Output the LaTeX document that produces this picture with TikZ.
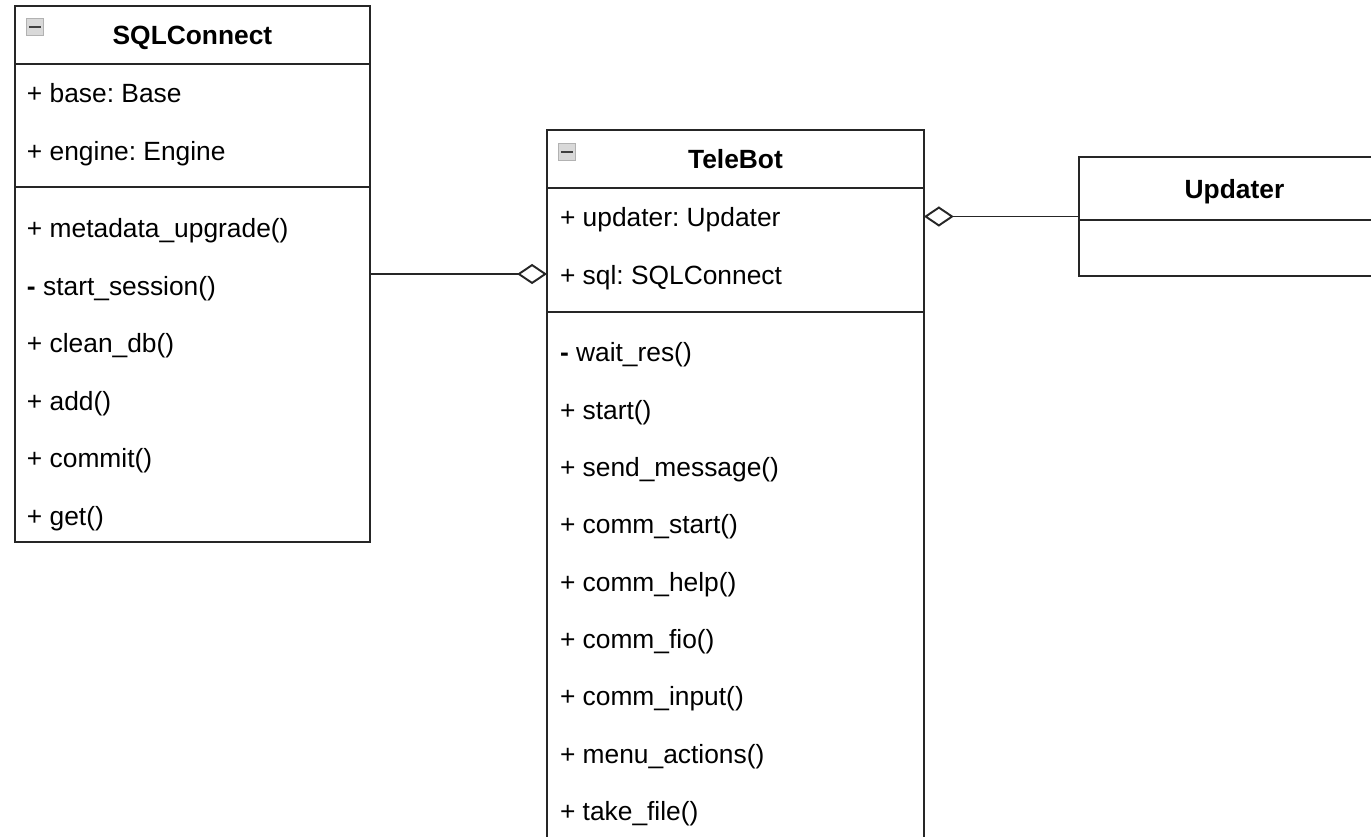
\documentclass[tikz,border=0pt]{standalone}
\usepackage{fontspec}
\setmainfont{Liberation Sans}
\usetikzlibrary{arrows.meta}
\frenchspacing

\begin{document}
\begin{tikzpicture}[x=0.02cm, y=-0.02cm,
		every node/.style={inner sep=0pt, outer sep=0pt, font=\fontsize{15}{18}\selectfont},
		part/.style={draw=black!85, line width=1.1pt, anchor=north west, minimum width=#1},
		title/.style={font=\fontsize{15}{18}\selectfont\bfseries, text depth=0pt},
		member/.style={anchor=base west},
		icon/.style={draw=gray!60, fill=gray!30, line width=0.8pt, minimum size=0.34cm,
			path picture={\draw[black!75, line width=1.6pt] ([xshift=-0.12cm]path picture bounding box.center) -- ([xshift=0.12cm]path picture bounding box.center);}},
		aggr/.style={draw=black!85, line width=1.1pt, -{Diamond[open, fill=white, length=17pt, width=11.5pt]}}]
	\useasboundingbox (0,0) rectangle (1371,836);
	\clip (0,0) rectangle (1371,836);

	% SQLConnect
	\node [part=7.1cm, minimum height=1.16cm, title] (sqlHead) at (15,6) {SQLConnect};
	\node [part=7.1cm, minimum height=2.46cm] (sqlAttr) at (sqlHead.south west) {};
	\node [part=7.1cm, minimum height=7.1cm] (sqlOps) at (sqlAttr.south west) {};
	\node [icon] (sqlIcon) at (35,27) {};
	\node [member] (sqlBase) at (27,102) {+ base: Base};
	\node [member] (sqlEngine) at (27,160) {+ engine: Engine};
	\node [member] (sqlMeta) at (27,237) {+ metadata\_upgrade()};
	\node [member] (sqlSession) at (27,295) {\textbf{-} start\_session()};
	\node [member] (sqlClean) at (27,352) {+ clean\_db()};
	\node [member] (sqlAdd) at (27,410) {+ add()};
	\node [member] (sqlCommit) at (27,467) {+ commit()};
	\node [member] (sqlGet) at (27,525) {+ get()};

	% TeleBot
	\node [part=7.54cm, minimum height=1.16cm, title] (tbHead) at (547,130) {TeleBot};
	\node [part=7.54cm, minimum height=2.48cm] (tbAttr) at (tbHead.south west) {};
	\node [part=7.54cm, minimum height=11.2cm] (tbOps) at (tbAttr.south west) {};
	\node [icon] (tbIcon) at (567,152) {};
	\node [member] (tbUpdater) at (560,226) {+ updater: Updater};
	\node [member] (tbSql) at (560,284) {+ sql: SQLConnect};
	\node [member] (tbWait) at (560,361) {\textbf{-} wait\_res()};
	\node [member] (tbStart) at (560,419) {+ start()};
	\node [member] (tbSend) at (560,476) {+ send\_message()};
	\node [member] (tbCommStart) at (560,533) {+ comm\_start()};
	\node [member] (tbHelp) at (560,591) {+ comm\_help()};
	\node [member] (tbFio) at (560,648) {+ comm\_fio()};
	\node [member] (tbInput) at (560,705) {+ comm\_input()};
	\node [member] (tbMenu) at (560,763) {+ menu\_actions()};
	\node [member] (tbFile) at (560,820) {+ take\_file()};

	% Updater
	\node [part=6.22cm, minimum height=1.26cm, title] (updHead) at (1079,157) {Updater};
	\node [part=6.22cm, minimum height=1.12cm] (updBody) at (updHead.south west) {};

	% aggregations
	\draw [aggr] (sqlOps.east |- 0,274) -- (tbAttr.west |- 0,274);
	\draw [aggr] (updHead.west |- 0,216.5) -- (tbAttr.east |- 0,216.5);
\end{tikzpicture}
\end{document}
